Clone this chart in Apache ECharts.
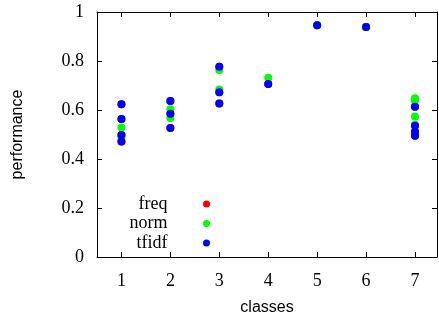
<!DOCTYPE html>
<html>
<head>
<meta charset="utf-8">
<script src="https://cdn.jsdelivr.net/npm/echarts@6/dist/echarts.min.js"></script>
<style>
  html, body { margin: 0; padding: 0; background: #fff; }
  #chart { width: 439px; height: 322px; }
</style>
</head>
<body>
<div id="chart"></div>
<script>
// classes on the x axis and the y tick values
const classes = [1, 2, 3, 4, 5, 6, 7];
const yTicks = [0, 0.2, 0.4, 0.6, 0.8, 1];

// values per class (one inner list per class)
const freqVals = [
  [0.623, 0.563, 0.498, 0.471],
  [0.637, 0.585, 0.527],
  [0.777, 0.672, 0.627],
  [0.706],
  [0.946],
  [0.939],
  [0.613, 0.536, 0.511, 0.495]
];
const normVals = [
  [0.529, 0.49],
  [0.603, 0.567],
  [0.763, 0.684],
  [0.732],
  [0.946],
  [0.939],
  [0.648, 0.637, 0.573, 0.54]
];
const tfidfVals = [
  [0.623, 0.563, 0.498, 0.471],
  [0.637, 0.585, 0.527],
  [0.777, 0.672, 0.627],
  [0.706],
  [0.946],
  [0.939],
  [0.613, 0.536, 0.511, 0.495]
];

function toPoints(vals) {
  const pts = [];
  classes.forEach((c, i) => {
    vals[i].forEach(v => pts.push([c, v]));
  });
  return pts;
}

const chart = echarts.init(document.getElementById('chart'));

const serif = 'Liberation Serif';
const sans = 'Liberation Sans';
const black = '#000';

const tickStyle = { show: true, inside: true, length: 5, lineStyle: { color: black, width: 1 } };

const option = {
  animation: false,
  backgroundColor: '#fff',
  color: ['#ff0000', '#00ff00', '#0000ff'],
  grid: { left: 97, right: 2, top: 12, bottom: 65 },
  legend: {
    orient: 'vertical',
    align: 'right',
    right: 229,
    top: 195,
    padding: 0,
    itemGap: 1.5,
    icon: 'circle',
    itemWidth: 68,
    itemHeight: 7,
    textStyle: { fontFamily: serif, fontSize: 18, color: black, lineHeight: 18 },
    data: ['freq', 'norm', 'tfidf']
  },
  xAxis: [
    {
      type: 'value',
      min: 0.5,
      max: 7.45,
      name: 'classes',
      nameLocation: 'middle',
      nameGap: 43,
      nameTextStyle: { fontFamily: sans, fontSize: 16, color: black },
      axisLine: { show: true, onZero: false, lineStyle: { color: black, width: 1 } },
      axisTick: Object.assign({ customValues: classes }, tickStyle),
      axisLabel: { customValues: classes, margin: 15, fontFamily: serif, fontSize: 18, color: black },
      splitLine: { show: false }
    },
    {
      type: 'value',
      position: 'top',
      min: 0.5,
      max: 7.45,
      axisLine: { show: true, onZero: false, lineStyle: { color: black, width: 1 } },
      axisTick: Object.assign({ customValues: classes }, tickStyle),
      axisLabel: { show: false },
      splitLine: { show: false }
    }
  ],
  yAxis: [
    {
      type: 'value',
      min: 0,
      max: 1,
      interval: 0.2,
      name: 'performance',
      nameLocation: 'middle',
      nameGap: 71,
      nameTextStyle: { fontFamily: sans, fontSize: 16, color: black },
      axisLine: { show: true, onZero: false, lineStyle: { color: black, width: 1 } },
      axisTick: tickStyle,
      axisLabel: { margin: 13, fontFamily: serif, fontSize: 18, color: black },
      splitLine: { show: false }
    },
    {
      type: 'value',
      position: 'right',
      min: 0,
      max: 1,
      interval: 0.2,
      axisLine: { show: true, onZero: false, lineStyle: { color: black, width: 1 } },
      axisTick: tickStyle,
      axisLabel: { show: false },
      splitLine: { show: false }
    }
  ],
  series: [
    { name: 'freq', type: 'scatter', symbolSize: 8, itemStyle: { opacity: 1 }, data: toPoints(freqVals) },
    { name: 'norm', type: 'scatter', symbolSize: 8, itemStyle: { opacity: 1 }, data: toPoints(normVals) },
    { name: 'tfidf', type: 'scatter', symbolSize: 8, itemStyle: { opacity: 1 }, data: toPoints(tfidfVals) }
  ]
};

chart.setOption(option);
</script>
</body>
</html>
